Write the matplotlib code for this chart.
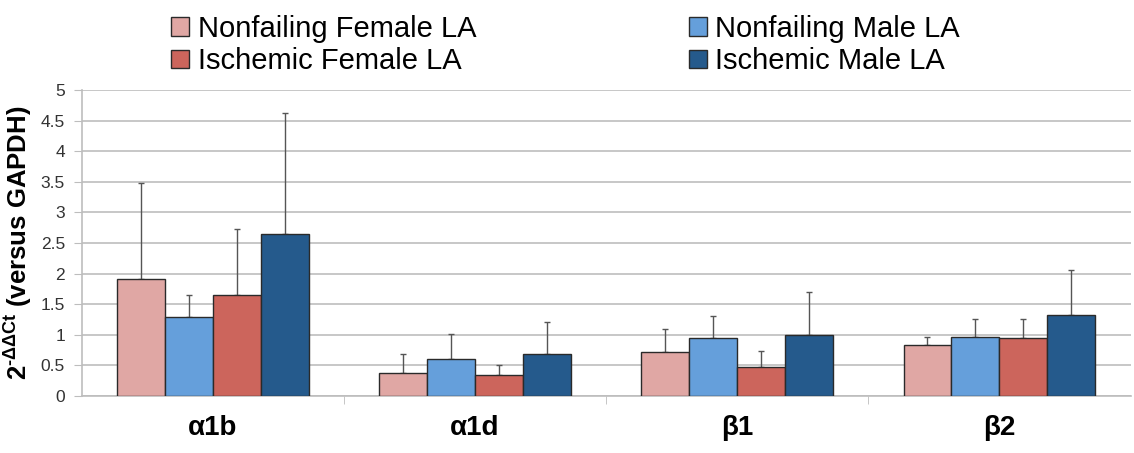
import numpy as np
import matplotlib.pyplot as plt
import matplotlib.transforms as mtransforms

plt.rcParams['font.family'] = ['Liberation Sans', 'DejaVu Sans']
plt.rcParams['mathtext.fontset'] = 'custom'
plt.rcParams['mathtext.rm'] = 'Liberation Sans:bold'
plt.rcParams['mathtext.bf'] = 'Liberation Sans:bold'

categories = ['α1b', 'α1d', 'β1', 'β2']
series = ['Nonfailing Female LA', 'Nonfailing Male LA', 'Ischemic Female LA', 'Ischemic Male LA']
colors = ['#E0A7A4', '#659FDB', '#CC655C', '#255A8C']

means = {
    'Nonfailing Female LA': [1.91, 0.37, 0.72, 0.83],
    'Nonfailing Male LA':   [1.29, 0.60, 0.94, 0.96],
    'Ischemic Female LA':   [1.65, 0.34, 0.47, 0.94],
    'Ischemic Male LA':     [2.65, 0.69, 0.99, 1.32],
}
# upper end of error bar
tops = {
    'Nonfailing Female LA': [3.48, 0.68, 1.10, 0.97],
    'Nonfailing Male LA':   [1.65, 1.01, 1.31, 1.25],
    'Ischemic Female LA':   [2.73, 0.50, 0.74, 1.25],
    'Ischemic Male LA':     [4.62, 1.21, 1.70, 2.06],
}

fig = plt.figure(figsize=(11.34, 4.53), dpi=100)
ax = fig.add_axes([0.072, 0.126, 0.925, 0.675])

x = np.arange(len(categories))
w = 0.183
handles = {}
for i, s in enumerate(series):
    pos = x + (i - 1.5) * w
    m = np.array(means[s])
    err = np.array(tops[s]) - m
    handles[s] = ax.bar(pos, m, w, color=colors[i], edgecolor='#2a2a2a', linewidth=1.0,
                        label=s, zorder=3)
    ax.errorbar(pos, m, yerr=[np.zeros_like(err), err], fmt='none',
                ecolor='#555555', elinewidth=1.0, capsize=2, capthick=1.0, zorder=2)

ax.set_xlim(-0.5, 3.5)
ax.set_ylim(0, 5)
ax.set_yticks(np.arange(0, 5.01, 0.5))
ax.set_yticklabels(['0', '0.5', '1', '1.5', '2', '2.5', '3', '3.5', '4', '4.5', '5'])
ax.yaxis.grid(True, color='#bdbdbd', linewidth=1.2, zorder=0)
ax.set_axisbelow(True)

ax.set_xticks(x)
ax.set_xticklabels(categories, fontsize=20, fontweight='bold')
shift = mtransforms.ScaledTranslation(-16 / 100, 0, fig.dpi_scale_trans)
for lbl in ax.get_xticklabels():
    lbl.set_transform(lbl.get_transform() + shift)
ax.set_xticks([0.5, 1.5, 2.5], minor=True)
ax.tick_params(axis='x', which='major', length=0, pad=14)
ax.tick_params(axis='x', which='minor', length=6, color='#bdbdbd')
ax.tick_params(axis='y', length=6, color='#bdbdbd', labelsize=12.5, labelcolor='#333333', pad=6)

for sp in ['top', 'right']:
    ax.spines[sp].set_visible(False)
ax.spines['left'].set_color('#bdbdbd')
ax.spines['bottom'].set_color('#bdbdbd')
ax.spines['left'].set_linewidth(1.2)
ax.spines['bottom'].set_linewidth(1.2)

ax.set_ylabel(r'2$^{\mathbf{‐ΔΔCt}}$ (versus GAPDH)', fontsize=18.5, fontweight='bold', labelpad=5)

order = ['Nonfailing Female LA', 'Ischemic Female LA', 'Nonfailing Male LA', 'Ischemic Male LA']
fig.legend([handles[s] for s in order], order, loc='upper left',
           bbox_to_anchor=(0.128, 1.025), ncol=2, frameon=False,
           fontsize=21, handlelength=0.6, handleheight=0.6, handletextpad=0.3,
           columnspacing=7.3, labelspacing=0.15)

plt.savefig('out.png', dpi=100)
